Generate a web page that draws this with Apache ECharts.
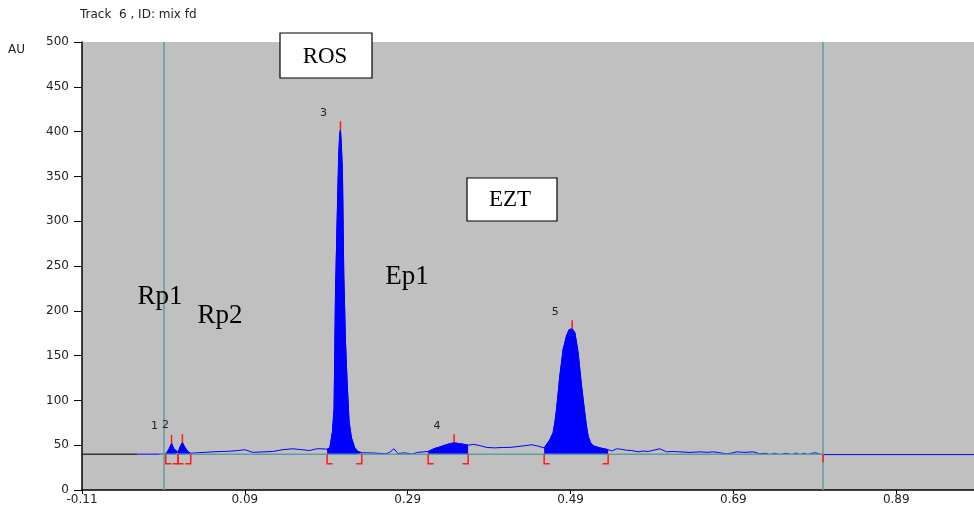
<!DOCTYPE html>
<html>
<head>
<meta charset="utf-8">
<title>Track 6, ID: mix fd</title>
<script src="https://cdn.jsdelivr.net/npm/echarts@6/dist/echarts.min.js"></script>
<style>
  html, body { margin: 0; padding: 0; background: #ffffff; }
  #chart { width: 974px; height: 510px; }
</style>
</head>
<body>
<div id="chart"></div>
<script>
// Densitometric scan of track 6 (mix fd): Rf position vs. absorbance (AU)
const rfValues = [
  -0.042, -0.015, -0.0072, -0.0035, 0.0000, 0.0027, 0.0051, 0.0079, 0.0100, 0.0133,
  0.0161, 0.0198, 0.0235, 0.0305, 0.0407, 0.0506, 0.0616, 0.0714, 0.0813, 0.0899,
  0.0997, 0.1120, 0.1243, 0.1366, 0.1488, 0.1599, 0.1697, 0.1780, 0.1845, 0.1910,
  0.1944, 0.1976, 0.1996, 0.2013, 0.2033, 0.2054, 0.2066, 0.2074, 0.2087, 0.2099,
  0.2115, 0.2136, 0.2156, 0.2180, 0.2210, 0.2250, 0.2287, 0.2336, 0.2433, 0.2531,
  0.2630, 0.2679, 0.2731, 0.2780, 0.2864, 0.2950, 0.3024, 0.3086, 0.3151, 0.3221,
  0.3294, 0.3356, 0.3417, 0.3470, 0.3540, 0.3589, 0.3642, 0.3712, 0.3786, 0.3872,
  0.3970, 0.4068, 0.4154, 0.4253, 0.4339, 0.4425, 0.4499, 0.4576, 0.4597, 0.4646,
  0.4686, 0.4707, 0.4728, 0.4748, 0.4768, 0.4789, 0.4809, 0.4829, 0.4850, 0.4883,
  0.4920, 0.4953, 0.4974, 0.4993, 0.5014, 0.5035, 0.5055, 0.5075, 0.5096, 0.5116,
  0.5146, 0.5186, 0.5260, 0.5362, 0.5407, 0.5465, 0.5518, 0.5588, 0.5653, 0.5730,
  0.5788, 0.5853, 0.5923, 0.5997, 0.6079, 0.6157, 0.6243, 0.6366, 0.6488, 0.6574,
  0.6652, 0.6734, 0.6816, 0.6869, 0.6939, 0.7041, 0.7143, 0.7225, 0.7299, 0.7348,
  0.7409, 0.7471, 0.7545, 0.7618, 0.7667, 0.7716, 0.7766, 0.7815, 0.7864, 0.7914,
  0.7963, 0.8000, 0.9855
];
const auValues = [
  40, 40, 40, 45, 52, 46, 44, 42, 47, 53,
  48, 43, 41, 41.5, 42, 42.6, 43, 43.3, 44, 45,
  42, 42.5, 43, 45, 46, 45, 44, 46, 46, 45.5,
  47, 65, 91, 218, 299, 377, 398, 402, 382, 352,
  240, 165, 120, 76, 58, 47, 43, 41.5, 41.5, 41,
  40.5, 42, 46, 40.7, 41.5, 40, 42, 42.5, 43, 46,
  48, 50, 51.6, 52.7, 51.6, 51, 50, 51, 49.5, 47.5,
  47, 47.5, 47.5, 48.5, 49.5, 50.5, 49, 47, 48, 56,
  64, 75, 90, 108, 127, 142, 157, 164, 172, 179,
  180, 175.5, 164, 153, 134.5, 116, 101, 86, 71, 60,
  52.7, 49, 47, 45, 43.5, 46, 45.5, 44.4, 44, 42.6,
  43.5, 43, 44.5, 46, 42.6, 43, 42.6, 41.9, 42.6, 42,
  42.6, 41.5, 40.4, 41, 42.6, 42, 42.6, 40.4, 41, 39.5,
  41, 39.5, 41, 39.5, 41.2, 39.5, 41, 39.5, 41, 41.5,
  40, 39.5, 39.5
];

// Integrated peaks: boundaries, apex position and apex height
const peakIds = ['1', '2', '3', '4', '5'];
const peakStart = [-0.0072, 0.0079, 0.1910, 0.3151, 0.4576];
const peakEnd = [0.0079, 0.0235, 0.2336, 0.3642, 0.5362];
const peakApexRf = [0.0000, 0.0133, 0.2074, 0.3470, 0.4920];
const peakApexAU = [52, 53, 402, 52.7, 180];

// Scan geometry
const baselineAU = 40;
const scanBeginRf = -0.11;
const traceBeginRf = -0.042;
const applicationRf = -0.015;
const solventFrontRf = 0.80;

// Axis ticks
const xTicks = [-0.11, 0.09, 0.29, 0.49, 0.69, 0.89];
const yTicks = [0, 50, 100, 150, 200, 250, 300, 350, 400, 450, 500];

const BLUE = '#0000ff';
const RED = '#ff1a1a';
const TEAL = '#5f9ea0';
const FONT = 'DejaVu Sans, Verdana, sans-serif';
const SERIF = 'Liberation Serif, Times New Roman, serif';

const trace = rfValues.map((rf, i) => [rf, auValues[i]]);

const peakFillSeries = peakIds.map((id, k) => ({
  name: 'peak ' + id,
  type: 'line',
  data: trace.filter(p => p[0] >= peakStart[k] - 1e-9 && p[0] <= peakEnd[k] + 1e-9),
  symbol: 'none',
  lineStyle: { color: BLUE, width: 1 },
  areaStyle: { color: BLUE, opacity: 1, origin: baselineAU },
  z: 2,
  silent: true
}));

const peakMarks = {
  type: 'custom',
  name: 'integration',
  coordinateSystem: 'cartesian2d',
  encode: { x: [0, 1, 2], y: 3 },
  data: peakIds.map((id, k) => [peakStart[k], peakEnd[k], peakApexRf[k], peakApexAU[k]]),
  renderItem: function (params, api) {
    const s = api.coord([api.value(0), baselineAU]);
    const e = api.coord([api.value(1), baselineAU]);
    const a = api.coord([api.value(2), api.value(3)]);
    const drop = 9.5;
    const foot = Math.min(5.5, (e[0] - s[0]) / 2);
    const lineStyle = { stroke: RED, fill: null, lineWidth: 1.5 };
    return {
      type: 'group',
      children: [
        { type: 'polyline', shape: { points: [[s[0], s[1]], [s[0], s[1] + drop], [s[0] + foot, s[1] + drop]] }, style: lineStyle },
        { type: 'polyline', shape: { points: [[e[0], e[1]], [e[0], e[1] + drop], [e[0] - foot, e[1] + drop]] }, style: lineStyle },
        { type: 'line', shape: { x1: a[0], y1: a[1], x2: a[0], y2: a[1] - 8.5 }, style: { stroke: RED, lineWidth: 1.5 } },
        { type: 'text', style: { text: peakIds[params.dataIndex], x: a[0] - 17, y: a[1] - 17, fill: '#222', font: '11px ' + FONT, align: 'center', verticalAlign: 'middle' } }
      ]
    };
  },
  z: 5,
  silent: true
};

const frontMark = {
  type: 'custom',
  name: 'front',
  coordinateSystem: 'cartesian2d',
  data: [[solventFrontRf, baselineAU]],
  renderItem: function (params, api) {
    const p = api.coord([api.value(0), api.value(1)]);
    return { type: 'line', shape: { x1: p[0], y1: p[1], x2: p[0], y2: p[1] + 8 }, style: { stroke: RED, lineWidth: 1.5 } };
  },
  z: 6,
  silent: true
};

const option = {
  animation: false,
  backgroundColor: '#ffffff',
  grid: {
    left: 82, top: 42, right: 0, bottom: 20,
    show: true, backgroundColor: '#c0c0c0', borderWidth: 0,
    outerBoundsMode: 'none'
  },
  xAxis: {
    type: 'value',
    min: scanBeginRf,
    max: 0.9855,
    splitLine: { show: false },
    axisLine: { show: true, onZero: false, lineStyle: { color: '#000', width: 1.5 } },
    axisTick: { show: true, length: 4, customValues: xTicks, lineStyle: { color: '#000' } },
    axisLabel: {
      customValues: xTicks, margin: 4, color: '#222', fontSize: 12, fontFamily: FONT,
      formatter: v => v.toFixed(2)
    }
  },
  yAxis: {
    type: 'value',
    min: 0, max: 500, interval: 50,
    splitLine: { show: false },
    axisLine: { show: true, onZero: false, lineStyle: { color: '#000', width: 1.5 } },
    axisTick: { show: true, length: 8, lineStyle: { color: '#000' } },
    axisLabel: {
      color: '#222', fontSize: 12, fontFamily: FONT, margin: 13,
      formatter: v => (yTicks.indexOf(v) >= 0 ? String(v) : '')
    }
  },
  series: [
    ...peakFillSeries,
    {
      name: 'scan',
      type: 'line',
      data: trace,
      symbol: 'none',
      lineStyle: { color: BLUE, width: 1 },
      z: 3,
      silent: true
    },
    {
      name: 'pre-scan',
      type: 'line',
      data: [[scanBeginRf, baselineAU], [traceBeginRf, baselineAU]],
      symbol: 'none',
      lineStyle: { color: '#333333', width: 1.5 },
      z: 3,
      silent: true
    },
    {
      name: 'baseline',
      type: 'line',
      data: [[applicationRf, baselineAU], [solventFrontRf, baselineAU]],
      symbol: 'none',
      lineStyle: { color: TEAL, width: 1.5 },
      z: 4,
      silent: true,
      markLine: {
        silent: true,
        symbol: ['none', 'none'],
        label: { show: false },
        lineStyle: { color: TEAL, width: 1.5, type: 'solid' },
        data: [{ xAxis: applicationRf }, { xAxis: solventFrontRf }]
      }
    },
    peakMarks,
    frontMark
  ],
  graphic: [
    { type: 'text', left: 80, top: 9, style: { text: 'Track  6 , ID: mix fd', fill: '#222', font: '12px ' + FONT } },
    { type: 'text', left: 8, top: 44, style: { text: 'AU', fill: '#222', font: '12px ' + FONT } },
    { type: 'rect', shape: { x: 280, y: 33, width: 92, height: 45 }, style: { fill: '#ffffff', stroke: '#000', lineWidth: 1.2 }, z: 10 },
    { type: 'text', x: 325, y: 57, style: { text: 'ROS', fill: '#000', font: '23px ' + SERIF, align: 'center', verticalAlign: 'middle' }, z: 11 },
    { type: 'rect', shape: { x: 467, y: 178, width: 90, height: 43 }, style: { fill: '#ffffff', stroke: '#000', lineWidth: 1.2 }, z: 10 },
    { type: 'text', x: 510, y: 200, style: { text: 'EZT', fill: '#000', font: '23px ' + SERIF, align: 'center', verticalAlign: 'middle' }, z: 11 },
    { type: 'text', x: 160, y: 297, style: { text: 'Rp1', fill: '#000', font: '27px ' + SERIF, align: 'center', verticalAlign: 'middle' }, z: 11 },
    { type: 'text', x: 220, y: 316, style: { text: 'Rp2', fill: '#000', font: '27px ' + SERIF, align: 'center', verticalAlign: 'middle' }, z: 11 },
    { type: 'text', x: 407, y: 277, style: { text: 'Ep1', fill: '#000', font: '27px ' + SERIF, align: 'center', verticalAlign: 'middle' }, z: 11 }
  ]
};

const chart = echarts.init(document.getElementById('chart'), null, { renderer: 'canvas' });
chart.setOption(option);
</script>
</body>
</html>
